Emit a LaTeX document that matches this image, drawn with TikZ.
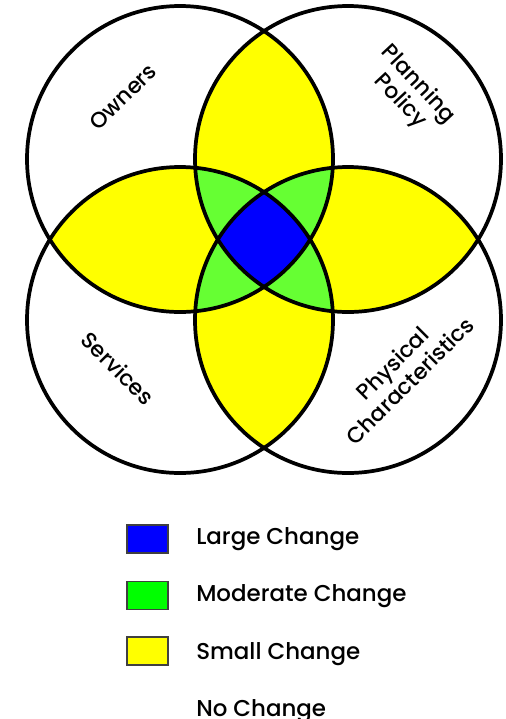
\documentclass[tikz,border=0pt]{standalone}
\usepackage{fontspec}
\setmainfont{Poppins}[BoldFont={Poppins Medium}]
\definecolor{smallc}{RGB}{255,255,0}
\definecolor{modc}{RGB}{102,255,51}
\definecolor{modkey}{RGB}{0,255,0}
\definecolor{largec}{RGB}{0,0,255}
\def\rad{114.75pt}
\tikzset{
  ring/.style={line width=2.8pt},
  lbl/.style={font=\bfseries\fontsize{16.5}{18.5}\selectfont, align=center, inner sep=0pt},
  keybox/.style={draw=black!75, line width=0.8pt, minimum width=30.75pt, minimum height=21pt, inner sep=0pt},
  keytxt/.style={font=\bfseries\fontsize{17.2}{19}\selectfont, anchor=base west, inner sep=0pt},
}
\begin{document}
\begin{tikzpicture}[x=0.75pt,y=-0.75pt]
    \useasboundingbox (0,0) rectangle (506,719);
    \coordinate (tl) at (180,159);
    \coordinate (tr) at (348,159);
    \coordinate (bl) at (180,320);
    \coordinate (br) at (348,320);
    % two circles: small change
    \begin{scope}
        \clip (tl) circle[radius=\rad];
        \fill[smallc] (tr) circle[radius=\rad];
        \fill[smallc] (bl) circle[radius=\rad];
    \end{scope}
    \begin{scope}
        \clip (br) circle[radius=\rad];
        \fill[smallc] (tr) circle[radius=\rad];
        \fill[smallc] (bl) circle[radius=\rad];
    \end{scope}
    % three circles: moderate change
    \begin{scope}
        \clip (tl) circle[radius=\rad];
        \clip (tr) circle[radius=\rad];
        \fill[modc] (bl) circle[radius=\rad];
        \fill[modc] (br) circle[radius=\rad];
    \end{scope}
    \begin{scope}
        \clip (bl) circle[radius=\rad];
        \clip (br) circle[radius=\rad];
        \fill[modc] (tl) circle[radius=\rad];
        \fill[modc] (tr) circle[radius=\rad];
    \end{scope}
    % four circles: large change
    \begin{scope}
        \clip (tl) circle[radius=\rad];
        \clip (tr) circle[radius=\rad];
        \clip (bl) circle[radius=\rad];
        \fill[largec] (br) circle[radius=\rad];
    \end{scope}
    \draw[ring] (tl) circle[radius=\rad];
    \draw[ring] (tr) circle[radius=\rad];
    \draw[ring] (bl) circle[radius=\rad];
    \draw[ring] (br) circle[radius=\rad];
    \node[lbl,rotate=44] (owners) at (123,97) {Owners};
    \node[lbl,rotate=-47] (planning) at (409,93) {Planning\\Policy};
    \node[lbl,rotate=-45] (services) at (118,368) {Services};
    \node[lbl,rotate=45] (physical) at (401,372) {Physical\\Characteristics};
    % legend
    \node[keybox,fill=largec] (klarge) at (147.5,539) {};
    \node[keybox,fill=modkey] (kmod) at (147.5,595.5) {};
    \node[keybox,fill=smallc] (ksmall) at (147.5,651) {};
    \node[keytxt] (tlarge) at (196,544) {Large Change};
    \node[keytxt] (tmod) at (196,601) {Moderate Change};
    \node[keytxt] (tsmall) at (196,659) {Small Change};
    \node[keytxt] (tnone) at (196,716) {No Change};
\end{tikzpicture}
\end{document}
